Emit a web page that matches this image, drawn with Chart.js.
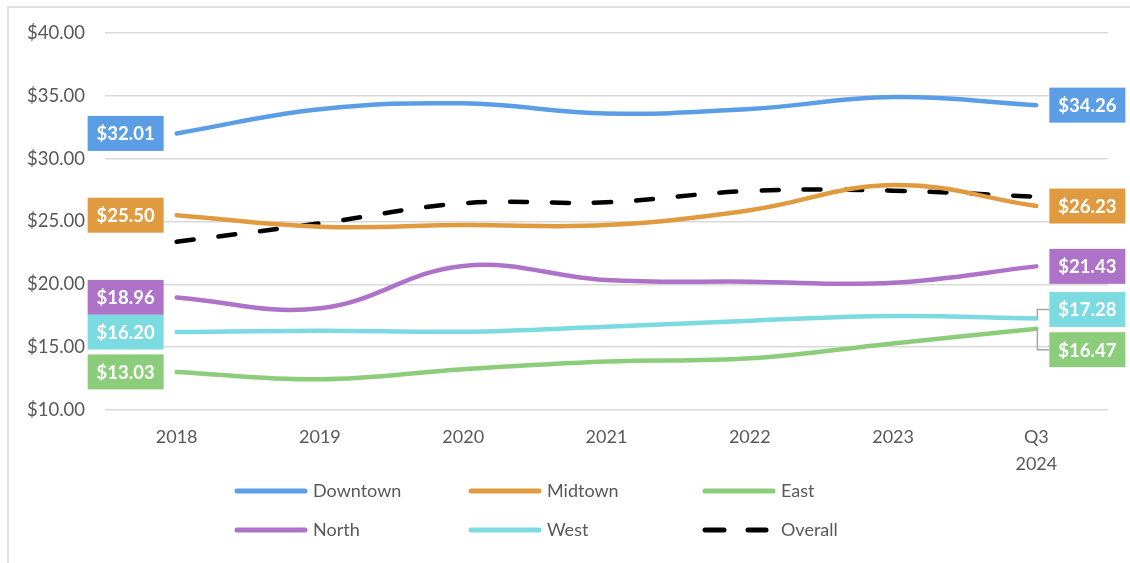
<!DOCTYPE html>
<html>
<head>
<meta charset="utf-8">
<script src="https://cdn.jsdelivr.net/npm/chart.js@4/dist/chart.umd.min.js"></script>
<style>
  html, body { margin: 0; padding: 0; background: #fff; }
  #wrap { position: relative; width: 1130px; height: 563px; }
</style>
</head>
<body>
<div id="wrap"><canvas id="myChart" width="1130" height="563"></canvas></div>
<script>
// Average asking rent by submarket
const periods = ['2018', '2019', '2020', '2021', '2022', '2023', ['Q3', '2024']];

const downtown = [32.01, 33.93, 34.40, 33.60, 33.95, 34.90, 34.26];
const midtown  = [25.50, 24.59, 24.72, 24.72, 25.90, 27.90, 26.23];
const east     = [13.03, 12.44, 13.24, 13.85, 14.11, 15.30, 16.47];
const north    = [18.96, 18.09, 21.46, 20.34, 20.21, 20.13, 21.43];
const west     = [16.20, 16.31, 16.23, 16.63, 17.10, 17.48, 17.28];
const overall  = [23.39, 24.85, 26.45, 26.53, 27.43, 27.45, 26.97];

const yTicks = [10, 15, 20, 25, 30, 35, 40];

const FONT = 'Lato, "Open Sans", sans-serif';
const GREY_TEXT = '#595959';

const money = v => '$' + v.toFixed(2);

function series(label, data, color, extra) {
  return Object.assign({
    label: label,
    data: data,
    borderColor: color,
    backgroundColor: color,
    borderWidth: 4.5,
    borderCapStyle: 'round',
    borderJoinStyle: 'round',
    pointRadius: 0,
    pointHoverRadius: 0,
    tension: 0.4,
    fill: false
  }, extra || {});
}

const chartdata = {
  labels: periods,
  datasets: [
    series('Downtown', downtown, '#5b9ee5', { endLabels: true }),
    series('Midtown', midtown, '#e09b41', { endLabels: true }),
    series('East', east, '#8ccd7b', { endLabels: true, lastShift: 21 }),
    series('North', north, '#ae73c8', { endLabels: true }),
    series('West', west, '#7bdbe0', { endLabels: true, lastShift: -9 }),
    series('Overall', overall, '#000000', { borderDash: [17, 25] })
  ]
};

// boxed value labels at the first and last point of each line
const endLabelPlugin = {
  id: 'endLabels',
  afterDatasetsDraw(chart) {
    const ctx = chart.ctx;
    ctx.save();
    ctx.font = 'bold 18.5px ' + FONT;
    ctx.textAlign = 'center';
    ctx.textBaseline = 'middle';
    chart.data.datasets.forEach((ds, i) => {
      if (!ds.endLabels) return;
      const pts = chart.getDatasetMeta(i).data;
      const n = pts.length - 1;
      [[0, -1], [n, 1]].forEach(([idx, side]) => {
        const p = pts[idx];
        const w = 76, h = 35, gap = 13;
        const shift = idx === n ? (ds.lastShift || 0) : 0;
        const cy = p.y + shift;
        const x0 = side < 0 ? p.x - gap - w : p.x + gap;
        if (shift) {
          // leader line from the point to the moved box
          ctx.strokeStyle = '#a6a6a6';
          ctx.lineWidth = 1.5;
          ctx.beginPath();
          ctx.moveTo(p.x + 1, p.y);
          ctx.lineTo(p.x + 1, cy);
          ctx.lineTo(x0, cy);
          ctx.stroke();
        }
        ctx.fillStyle = ds.borderColor;
        ctx.fillRect(x0, cy - h / 2, w, h);
        ctx.fillStyle = '#ffffff';
        ctx.fillText(money(ds.data[idx]), x0 + w / 2, cy + 1);
      });
    });
    ctx.restore();
  }
};

// legend laid out in a fixed 3-column grid
const gridLegendPlugin = {
  id: 'gridLegend',
  afterDraw(chart) {
    const ctx = chart.ctx;
    ctx.save();
    ctx.font = '18px ' + FONT;
    ctx.textBaseline = 'middle';
    ctx.textAlign = 'left';
    chart.data.datasets.forEach((ds, i) => {
      const col = i % 3, row = Math.floor(i / 3);
      const x = 237 + col * 234;
      const y = 491 + row * 39;
      ctx.strokeStyle = ds.borderColor;
      ctx.lineWidth = 5;
      ctx.lineCap = 'round';
      // dashed sample is two short strokes, solid is one long one
      const segs = ds.borderDash ? [[0, 19], [43, 61]] : [[0, 68]];
      segs.forEach(([a, b]) => {
        ctx.beginPath();
        ctx.moveTo(x + a, y);
        ctx.lineTo(x + b, y);
        ctx.stroke();
      });
      ctx.fillStyle = GREY_TEXT;
      ctx.fillText(ds.label, x + 76, y);
    });
    // outer frame (top and left edges)
    ctx.strokeStyle = '#d9d9d9';
    ctx.lineWidth = 1.5;
    ctx.beginPath();
    ctx.moveTo(8, 563);
    ctx.lineTo(8, 7);
    ctx.lineTo(1130, 7);
    ctx.stroke();
    ctx.restore();
  }
};

const ctx = document.getElementById('myChart');
const chart = new Chart(ctx, {
  type: 'line',
  data: chartdata,
  plugins: [endLabelPlugin, gridLegendPlugin],
  options: {
    responsive: false,
    animation: false,
    events: [],
    layout: { padding: { top: 33, right: 22, left: 0, bottom: 0 } },
    plugins: {
      legend: { display: false },
      tooltip: { enabled: false }
    },
    scales: {
      x: {
        offset: true,
        grid: { display: false, drawTicks: false },
        border: { display: false },
        ticks: {
          color: GREY_TEXT,
          font: { family: FONT, size: 18, lineHeight: 1.5 },
          padding: 14,
          maxRotation: 0,
          autoSkip: false
        },
        afterFit(scale) {
          scale.height = 153;
          scale.paddingLeft = 0;
          scale.paddingRight = 0;
        }
      },
      y: {
        min: 10,
        max: 40,
        afterBuildTicks(scale) {
          scale.ticks = yTicks.map(v => ({ value: v }));
        },
        grid: { color: '#d9d9d9', lineWidth: 1.5, drawTicks: false },
        border: { display: false },
        ticks: {
          color: GREY_TEXT,
          font: { family: FONT, size: 18.5 },
          padding: 20,
          callback: v => money(v)
        },
        afterFit(scale) {
          scale.width = 105;
          scale.paddingTop = 0;
          scale.paddingBottom = 0;
        }
      }
    }
  }
});
</script>
</body>
</html>
